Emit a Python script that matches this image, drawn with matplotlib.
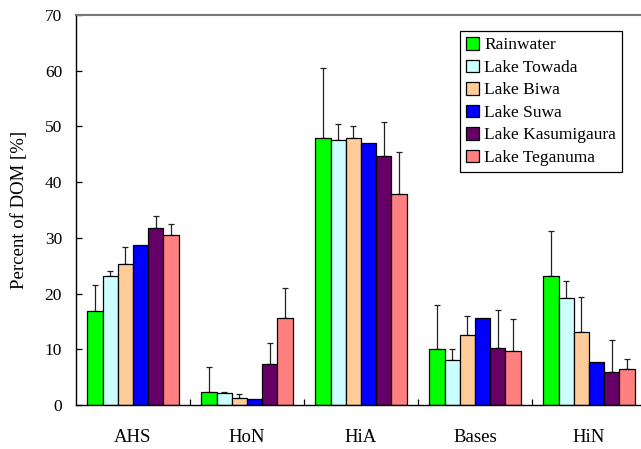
import matplotlib.pyplot as plt
import numpy as np

# --- data ---
categories = ['AHS', 'HoN', 'HiA', 'Bases', 'HiN']
series_names = ['Rainwater', 'Lake Towada', 'Lake Biwa', 'Lake Suwa',
                'Lake Kasumigaura', 'Lake Teganuma']
series_colors = ['#00ff00', '#ccffff', '#ffcc99', '#0000ff', '#660066', '#ff8080']

rainwater = [16.8, 2.3, 47.9, 10.0, 23.1]
towada = [23.2, 2.2, 47.6, 8.0, 19.2]
biwa = [25.3, 1.2, 47.9, 12.5, 13.1]
suwa = [28.7, 1.0, 47.0, 15.6, 7.7]
kasumigaura = [31.8, 7.4, 44.7, 10.2, 5.9]
teganuma = [30.5, 15.7, 37.9, 9.7, 6.4]

# upper error (SD); Lake Suwa has none
rainwater_err = [4.8, 4.5, 12.5, 8.0, 8.1]
towada_err = [0.9, 0.1, 2.8, 2.0, 3.1]
biwa_err = [3.0, 0.7, 2.1, 3.5, 6.3]
suwa_err = None
kasumigaura_err = [2.1, 3.8, 6.1, 6.8, 5.7]
teganuma_err = [2.0, 5.3, 7.5, 5.7, 1.8]

values = [rainwater, towada, biwa, suwa, kasumigaura, teganuma]
errors = [rainwater_err, towada_err, biwa_err, suwa_err, kasumigaura_err, teganuma_err]

plt.rcParams['font.family'] = ['Liberation Serif', 'DejaVu Serif']

fig = plt.figure(figsize=(6.41, 4.49), dpi=100)
ax = fig.add_axes([76 / 641, 44 / 449, 570 / 641, 390 / 449])

x = np.arange(len(categories))
n = len(series_names)
w = 0.8 / n
for i, (name, vals, err, col) in enumerate(zip(series_names, values, errors, series_colors)):
    pos = x - 0.4 + w * (i + 0.5)
    ax.bar(pos, vals, width=w, color=col, edgecolor='black', linewidth=0.9,
           label=name, zorder=2)
    if err is not None:
        ax.errorbar(pos, vals, yerr=[np.zeros(len(err)), err], fmt='none',
                    ecolor='#222222', elinewidth=0.9, capsize=2.2,
                    capthick=0.9, zorder=1)

ax.set_xlim(-0.5, 4.5)
ax.set_ylim(0, 70)
ax.set_yticks(range(0, 71, 10))
ax.set_xticks(x)
ax.set_xticklabels(categories, fontsize=13.5)
ax.set_xticks(np.arange(0.5, 4.5, 1), minor=True)
ax.tick_params(axis='x', which='major', length=0, pad=17)
ax.tick_params(axis='x', which='minor', direction='in', length=4, width=0.9)
ax.tick_params(axis='y', direction='in', length=4, width=0.9, labelsize=12.5, pad=10)
ax.set_ylabel('Percent of DOM [%]', fontsize=13.5, labelpad=12)

ax.spines['right'].set_visible(False)
ax.spines['top'].set_color('#777777')
ax.spines['top'].set_linewidth(1.5)
for s in ['left', 'bottom']:
    ax.spines[s].set_linewidth(1.0)

leg = ax.legend(loc='upper right', bbox_to_anchor=(622 / 641, 1 - 31 / 449),
                bbox_transform=fig.transFigure, borderaxespad=0, fontsize=12.5,
                fancybox=False, framealpha=1, edgecolor='black',
                handlelength=0.75, handleheight=0.75, handletextpad=0.3,
                labelspacing=0.35, borderpad=0.35)
leg.get_frame().set_linewidth(0.9)

fig.savefig('out.png', dpi=100)
